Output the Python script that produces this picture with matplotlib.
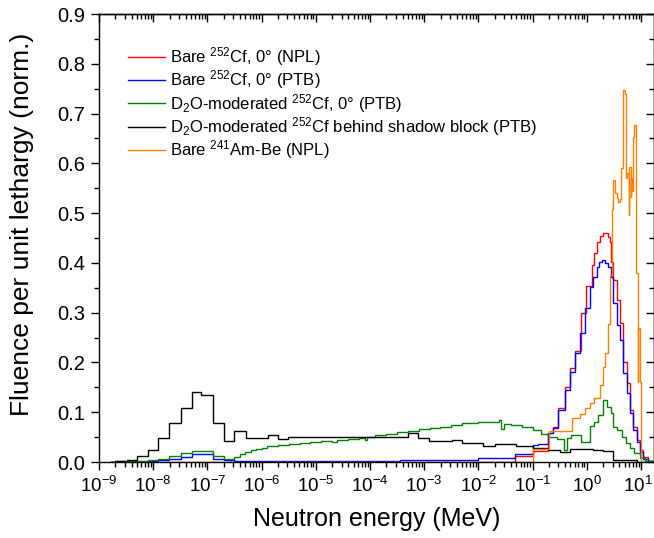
import numpy as np
import matplotlib
matplotlib.use('Agg')
import matplotlib.pyplot as plt
from matplotlib.ticker import LogLocator, NullFormatter, MultipleLocator, FuncFormatter
from matplotlib.transforms import ScaledTranslation

plt.rcParams['font.family'] = ['Liberation Sans', 'DejaVu Sans']
plt.rcParams['mathtext.fontset'] = 'custom'
plt.rcParams['mathtext.rm'] = 'Liberation Sans'
plt.rcParams['mathtext.it'] = 'Liberation Sans:italic'
plt.rcParams['mathtext.bf'] = 'Liberation Sans:bold'

# bin edges are log10(E / MeV), values are fluence per unit lethargy (norm.)
npl_cf_edges = [-8.8, -1.32, -0.99, -0.72, -0.62, -0.53, -0.40, -0.31, -0.22, -0.10, -0.01,
                0.09, 0.14, 0.19, 0.24, 0.29, 0.39, 0.42, 0.45, 0.49, 0.55, 0.61, 0.67,
                0.74, 0.80, 0.85, 0.93, 0.98, 1.04, 1.13, 1.22]
npl_cf_vals = [0.001, 0.012, 0.022, 0.058, 0.070, 0.108, 0.150, 0.188, 0.222, 0.300,
               0.353, 0.396, 0.419, 0.442, 0.454, 0.460, 0.453, 0.442, 0.402, 0.365,
               0.325, 0.279, 0.200, 0.159, 0.105, 0.071, 0.045, 0.025, 0.010, 0.003]

ptb_cf_edges = [-8.8, -8.09, -7.91, -7.71, -7.49, -7.29, -6.90, -6.69, -6.50, -3.45, -2.0,
                -1.32, -0.99, -0.90, -0.72, -0.62, -0.53, -0.40, -0.31, -0.22, -0.13, -0.03,
                0.06, 0.12, 0.18, 0.23, 0.28, 0.34, 0.40, 0.44, 0.49, 0.55, 0.61, 0.67,
                0.74, 0.80, 0.85, 0.93, 0.98, 1.04, 1.13, 1.22]
ptb_cf_vals = [0.0, 0.002, 0.004, 0.006, 0.010, 0.016, 0.007, 0.004, 0.003, 0.005,
               0.009, 0.016, 0.034, 0.036, 0.058, 0.068, 0.104, 0.145, 0.181, 0.218,
               0.260, 0.310, 0.352, 0.372, 0.392, 0.402, 0.405, 0.400, 0.392, 0.372,
               0.319, 0.275, 0.245, 0.178, 0.138, 0.098, 0.064, 0.041, 0.021, 0.007, 0.002]

d2o_edges = [-8.8, -8.70, -8.49, -8.09, -7.91, -7.71, -7.49, -7.29, -7.11, -6.90, -6.69,
             -6.50, -6.40, -6.30, -6.20, -6.10, -6.00, -5.90, -5.70, -5.50, -5.30, -5.10,
             -4.90, -4.70, -4.60, -4.40, -4.20, -4.10, -4.05, -3.90, -3.70, -3.50, -3.30,
             -3.10, -2.90, -2.70, -2.50, -2.30, -2.10, -2.00, -1.80, -1.62, -1.58, -1.53,
             -1.40, -1.20, -1.00, -0.85, -0.70, -0.55, -0.42, -0.36, -0.30, -0.11, 0.00,
             0.06, 0.13, 0.20, 0.30, 0.38, 0.44, 0.49, 0.55, 0.65, 0.72, 0.80, 0.88,
             0.98, 1.08, 1.22]
d2o_vals = [0.0, 0.002, 0.003, 0.004, 0.007, 0.012, 0.019, 0.023, 0.022, 0.012, 0.006,
            0.010, 0.017, 0.021, 0.024, 0.027, 0.029, 0.032, 0.035, 0.037, 0.039, 0.040,
            0.042, 0.041, 0.045, 0.047, 0.049, 0.045, 0.051, 0.054, 0.057, 0.060, 0.063,
            0.066, 0.068, 0.071, 0.075, 0.078, 0.079, 0.080, 0.081, 0.084, 0.066, 0.077,
            0.075, 0.071, 0.065, 0.057, 0.050, 0.046, 0.024, 0.049, 0.055, 0.040, 0.040,
            0.072, 0.081, 0.095, 0.125, 0.111, 0.098, 0.071, 0.064, 0.051, 0.038, 0.028,
            0.018, 0.008, 0.003]

shadow_edges = [-8.8, -8.70, -8.49, -8.30, -8.09, -7.91, -7.71, -7.49, -7.29, -7.11, -6.90,
                -6.69, -6.50, -6.29, -5.89, -5.70, -5.51, -3.29, -3.11, -2.92, -2.49, -2.31,
                -1.91, -1.69, -1.30, -0.99, -0.72, -0.49, -0.31, 0.11, 0.30, 0.48, 0.93, 1.20]
shadow_vals = [0.0, 0.002, 0.004, 0.012, 0.025, 0.048, 0.078, 0.109, 0.141, 0.135, 0.079,
               0.043, 0.063, 0.049, 0.054, 0.047, 0.050, 0.058, 0.048, 0.042, 0.044, 0.039,
               0.032, 0.037, 0.033, 0.029, 0.024, 0.021, 0.027, 0.024, 0.022, 0.005, 0.001]

ambe_edges = [-6.0, -0.99, -0.70, -0.27, -0.13, -0.03, 0.06, 0.13, 0.24, 0.30, 0.34, 0.39,
              0.43, 0.46, 0.49, 0.52, 0.56, 0.58, 0.61, 0.64, 0.66, 0.67, 0.70, 0.72, 0.73,
              0.75, 0.77, 0.78, 0.81, 0.82, 0.84, 0.86, 0.88, 0.90, 0.91, 0.94, 0.95, 0.98,
              1.00, 1.04]
ambe_vals = [0.0, 0.027, 0.063, 0.088, 0.096, 0.108, 0.118, 0.128, 0.155, 0.191, 0.218,
             0.278, 0.375, 0.509, 0.566, 0.540, 0.530, 0.523, 0.528, 0.590, 0.650, 0.747,
             0.740, 0.687, 0.570, 0.580, 0.496, 0.593, 0.533, 0.570, 0.545, 0.653, 0.677,
             0.533, 0.379, 0.160, 0.270, 0.160, 0.0]

series = [
    (npl_cf_edges, npl_cf_vals, '#ff0000', 'Bare $^{252}$Cf, 0° (NPL)'),
    (ptb_cf_edges, ptb_cf_vals, '#0000ff', 'Bare $^{252}$Cf, 0° (PTB)'),
    (d2o_edges, d2o_vals, '#008000', 'D$_2$O-moderated $^{252}$Cf, 0° (PTB)'),
    (shadow_edges, shadow_vals, '#000000', 'D$_2$O-moderated $^{252}$Cf behind shadow block (PTB)'),
    (ambe_edges, ambe_vals, '#ff8000', 'Bare $^{241}$Am-Be (NPL)'),
]

fig = plt.figure(figsize=(6.54, 5.38), dpi=100)
ax = fig.add_axes([99 / 654, 76 / 538, 555 / 654, 448 / 538])

for edges, vals, color, label in series:
    ax.stairs(vals, 10 ** np.array(edges), color=color, linewidth=1.0, label=label)

ax.set_xscale('log')
ax.set_xlim(1e-9, 10 ** 1.24)
ax.set_ylim(0, 0.9)

ax.xaxis.set_major_locator(LogLocator(base=10, numticks=20))
ax.xaxis.set_minor_locator(LogLocator(base=10, subs=np.arange(2, 10), numticks=200))
ax.xaxis.set_minor_formatter(NullFormatter())
ax.xaxis.set_major_formatter(FuncFormatter(lambda v, p: '$10^{%d}$' % round(np.log10(v))))
ax.yaxis.set_major_locator(MultipleLocator(0.1))
ax.yaxis.set_minor_locator(MultipleLocator(0.05))
ax.yaxis.set_major_formatter(FuncFormatter(lambda v, p: f'{v:.1f}'))

ax.tick_params(which='major', direction='out', length=6, width=1.0, labelsize=13.5, pad=4)
ax.tick_params(axis='y', labelsize=14.5)
ax.tick_params(which='minor', direction='out', length=3.5, width=1.0)
for sp in ax.spines.values():
    sp.set_linewidth(1.0)

# top and right: inward ticks, no labels
secx = ax.secondary_xaxis('top')
secx.xaxis.set_major_locator(LogLocator(base=10, numticks=20))
secx.xaxis.set_minor_locator(LogLocator(base=10, subs=np.arange(2, 10), numticks=200))
secx.xaxis.set_major_formatter(NullFormatter())
secx.xaxis.set_minor_formatter(NullFormatter())
secx.tick_params(which='major', direction='in', length=6, width=1.0)
secx.tick_params(which='minor', direction='in', length=3.5, width=1.0)
secx.spines['top'].set_linewidth(1.0)

secy = ax.secondary_yaxis('right')
secy.yaxis.set_major_locator(MultipleLocator(0.1))
secy.yaxis.set_minor_locator(MultipleLocator(0.05))
secy.yaxis.set_major_formatter(NullFormatter())
secy.tick_params(which='major', direction='in', length=6, width=1.0)
secy.tick_params(which='minor', direction='in', length=3.5, width=1.0)
secy.spines['right'].set_linewidth(1.0)

ax.set_xlabel('Neutron energy (MeV)', fontsize=18, labelpad=8)
ax.set_ylabel('Fluence per unit lethargy (norm.)', fontsize=19)
ax.yaxis.set_label_coords(-0.117, 0.53)

ax.legend(loc='upper left', bbox_to_anchor=(0.052, 0.93), frameon=False, fontsize=12,
          handlelength=2.25, handletextpad=0.3, labelspacing=0.02, borderpad=0,
          borderaxespad=0)

fig.canvas.draw()
# nudge the last decade label a little left so it stays inside the picture
for lbl in ax.get_xticklabels():
    if lbl.get_text() == '$10^{1}$':
        lbl.set_transform(lbl.get_transform() + ScaledTranslation(-2.5 / 72, 0, fig.dpi_scale_trans))

fig.savefig('out.png', dpi=100)
